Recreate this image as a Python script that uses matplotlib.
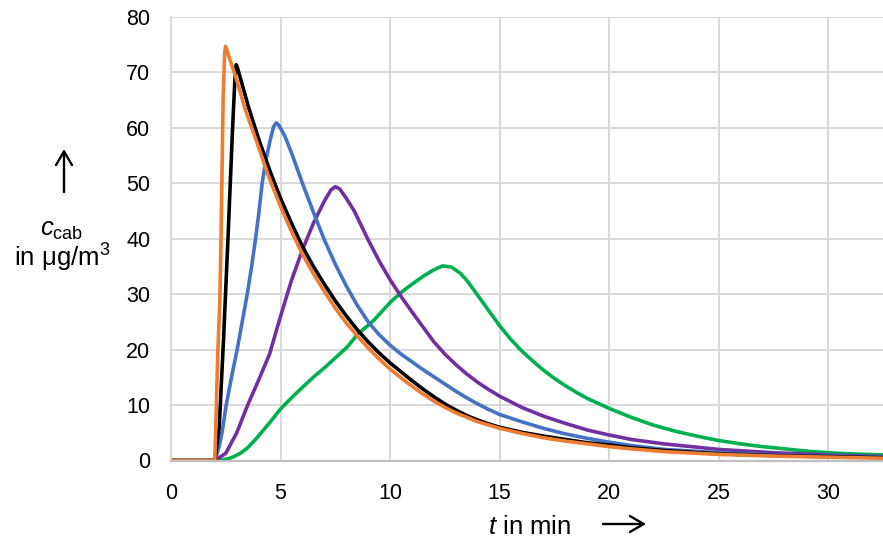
import matplotlib
matplotlib.use("Agg")
import matplotlib.pyplot as plt
from matplotlib.patches import FancyArrowPatch

plt.rcParams['font.family'] = ['Liberation Sans', 'DejaVu Sans']
plt.rcParams['mathtext.fontset'] = 'custom'
plt.rcParams['mathtext.rm'] = 'Liberation Sans'
plt.rcParams['mathtext.it'] = 'Liberation Sans:italic'

# concentration curves (t in min, c in ug/m3)
t_orange = [0, 2.0, 2.14, 2.23, 2.29, 2.38, 2.45, 2.49, 2.55, 3.0, 3.4, 4.0, 4.47, 5.0, 5.5, 6.0, 6.5, 7.0,
            7.5, 8.0, 8.5, 9.0, 9.5, 10.0, 10.5, 11.0, 11.5, 12.0, 12.5, 13.0, 13.5, 14.0, 14.5, 15.0,
            16.0, 17.0, 18.0, 19.0, 20.0, 21.0, 22.5, 25.0, 27.5, 30.0, 32.6]
c_orange = [0, 0, 19.9, 28.9, 41.5, 65.5, 73.5, 74.7, 74.0, 68.6, 63.2, 56.5, 51.1, 45.8, 41.3, 37.2, 33.7, 30.5,
            27.5, 24.8, 22.5, 20.3, 18.3, 16.5, 14.9, 13.4, 12.0, 10.7, 9.6, 8.6, 7.8, 7.0, 6.4, 5.8,
            4.9, 4.1, 3.5, 3.0, 2.5, 2.1, 1.6, 1.1, 0.8, 0.6, 0.4]

t_black = [0, 2.0, 2.2, 2.4, 2.6, 2.8, 2.92, 2.98, 3.05, 3.55, 4.0, 4.5, 5.0, 5.5, 6.0, 6.5, 7.0, 7.5, 8.0,
           8.5, 9.0, 9.5, 10.0, 10.5, 11.0, 11.5, 12.0, 12.5, 13.0, 13.5, 14.0, 14.5, 15.0, 16.0, 17.0,
           18.0, 19.0, 20.0, 21.0, 22.5, 25.0, 27.5, 30.0, 32.6]
c_black = [0, 0, 6.0, 22.0, 40.0, 59.0, 69.0, 71.4, 70.6, 63.6, 58.0, 52.4, 47.3, 42.8, 38.6, 35.0, 31.8, 28.8, 26.1,
           23.6, 21.4, 19.4, 17.6, 16.0, 14.4, 12.9, 11.5, 10.2, 9.1, 8.1, 7.3, 6.6, 6.0, 5.1, 4.4,
           3.8, 3.2, 2.8, 2.3, 1.8, 1.2, 0.9, 0.7, 0.5]

t_blue = [0, 2.0, 2.2, 2.35, 2.52, 2.75, 3.02, 3.25, 3.48, 3.68, 3.86, 4.02, 4.16, 4.35, 4.54, 4.68, 4.8, 4.92,
          5.2, 5.5, 6.0, 6.5, 7.0, 7.5, 8.0, 8.5, 9.0, 9.5, 10.0, 10.5, 11.0, 11.5, 12.0, 12.5, 13.0, 13.5,
          14.0, 14.5, 15.0, 16.0, 17.0, 18.0, 19.0, 20.0, 21.0, 22.5, 25.0, 27.5, 30.0, 32.6]
c_blue = [0, 0, 2.5, 5.5, 10.0, 14.8, 20.0, 25.0, 30.0, 35.0, 40.0, 45.0, 50.0, 54.5, 58.0, 60.2, 60.9, 60.5,
          58.5, 55.5, 50.0, 44.8, 39.8, 35.4, 31.5, 28.0, 25.0, 22.7, 20.8, 19.2, 17.8, 16.4, 15.1, 13.8, 12.5, 11.3,
          10.2, 9.2, 8.3, 7.0, 5.8, 4.8, 4.0, 3.3, 2.7, 2.0, 1.4, 1.0, 0.8, 0.6]

t_purple = [0, 2.0, 2.5, 3.0, 3.5, 4.0, 4.5, 4.85, 5.0, 5.5, 6.0, 6.5, 7.0, 7.3, 7.5, 7.7, 8.0, 8.35, 8.5, 9.0,
            9.5, 10.0, 10.5, 11.0, 11.5, 12.0, 12.5, 13.0, 13.5, 14.0, 14.5, 15.0, 16.0, 17.0, 18.0, 19.0,
            20.0, 21.0, 22.5, 25.0, 27.5, 30.0, 32.6]
c_purple = [0, 0, 1.3, 5.0, 10.0, 14.5, 19.2, 24.0, 26.0, 32.5, 38.0, 42.8, 46.8, 48.8, 49.4, 49.0, 47.3, 45.1, 43.9, 39.8,
            36.0, 32.6, 29.6, 26.8, 24.1, 21.4, 19.2, 17.3, 15.6, 14.1, 12.8, 11.6, 9.6, 8.0, 6.7, 5.5,
            4.6, 3.8, 3.0, 2.0, 1.4, 1.0, 0.7]

t_green = [0, 2.0, 2.3, 2.6, 2.87, 3.2, 3.5, 3.9, 4.5, 5.0, 5.5, 6.0, 6.52, 7.0, 7.5, 8.05, 8.5, 9.26, 10.0,
           10.5, 11.0, 11.5, 12.0, 12.4, 12.8, 13.2, 13.5, 13.8, 14.2, 14.6, 15.0, 15.5, 16.0, 16.5, 17.0,
           17.5, 18.0, 18.5, 19.0, 19.5, 20.0, 21.0, 22.0, 23.0, 24.0, 25.0, 26.0, 27.0, 28.0, 29.0, 30.0,
           31.0, 32.6]
c_green = [0, 0, 0.1, 0.3, 0.7, 1.4, 2.3, 4.0, 6.8, 9.3, 11.3, 13.2, 15.1, 16.7, 18.5, 20.5, 22.7, 25.3, 28.5,
           30.3, 31.8, 33.2, 34.4, 35.1, 34.9, 33.8, 32.5, 30.9, 28.7, 26.5, 24.3, 21.9, 19.8, 18.0, 16.3,
           14.8, 13.5, 12.3, 11.2, 10.3, 9.4, 7.8, 6.4, 5.3, 4.4, 3.6, 3.0, 2.5, 2.1, 1.7, 1.4,
           1.2, 1.0]

x_ticks = [0, 5, 10, 15, 20, 25, 30]
y_ticks = [0, 10, 20, 30, 40, 50, 60, 70, 80]

fig = plt.figure(figsize=(8.83, 5.44), dpi=100)
ax = fig.add_axes([171 / 883, 1 - 460.5 / 544, 1 - 171 / 883, (460.5 - 17) / 544])

lw = 2.6
ax.plot(t_green, c_green, color='#00B050', lw=lw, solid_joinstyle='round')
ax.plot(t_purple, c_purple, color='#7030A0', lw=lw, solid_joinstyle='round')
ax.plot(t_blue, c_blue, color='#4472C4', lw=lw, solid_joinstyle='round')
ax.plot(t_black, c_black, color='black', lw=lw, solid_joinstyle='round')
ax.plot(t_orange, c_orange, color='#ED7D31', lw=lw, solid_joinstyle='round')

ax.set_xlim(0, 32.5)
ax.set_ylim(0, 80)
ax.set_xticks(x_ticks)
ax.set_yticks(y_ticks)
ax.tick_params(length=0, labelsize=15.5, colors='black')
ax.tick_params(axis='x', pad=16)
ax.tick_params(axis='y', pad=15)
ax.grid(True, color='#D9D9D9', lw=1.4)
ax.set_axisbelow(True)
for s in ['top', 'right']:
    ax.spines[s].set_visible(False)
ax.spines['left'].set_color('#D9D9D9')
ax.spines['left'].set_linewidth(1.4)
ax.spines['bottom'].set_color('#BFBFBF')
ax.spines['bottom'].set_linewidth(1.6)

# axis titles with arrows
arrow_kw = dict(transform=fig.transFigure, arrowstyle='->,head_length=0.55,head_width=0.32',
                mutation_scale=18, lw=1.7, color='black', shrinkA=0, shrinkB=0)
fig.text(530 / 883, 1 - 527 / 544, r'$\mathit{t}$ in min', fontsize=18.5, ha='center', va='center')
fig.add_artist(FancyArrowPatch((603 / 883, 1 - 524 / 544), (646 / 883, 1 - 524 / 544), **arrow_kw))
fig.add_artist(FancyArrowPatch((64 / 883, 1 - 192 / 544), (64 / 883, 1 - 149 / 544), **arrow_kw))
fig.text(62 / 883, 1 - 230 / 544, r'$\mathit{c}_{\mathrm{cab}}$', fontsize=18.5, ha='center', va='center')
fig.text(62 / 883, 1 - 258 / 544, r'in μg/m$^3$', fontsize=18.5, ha='center', va='center')

fig.savefig('out.png', dpi=100)
